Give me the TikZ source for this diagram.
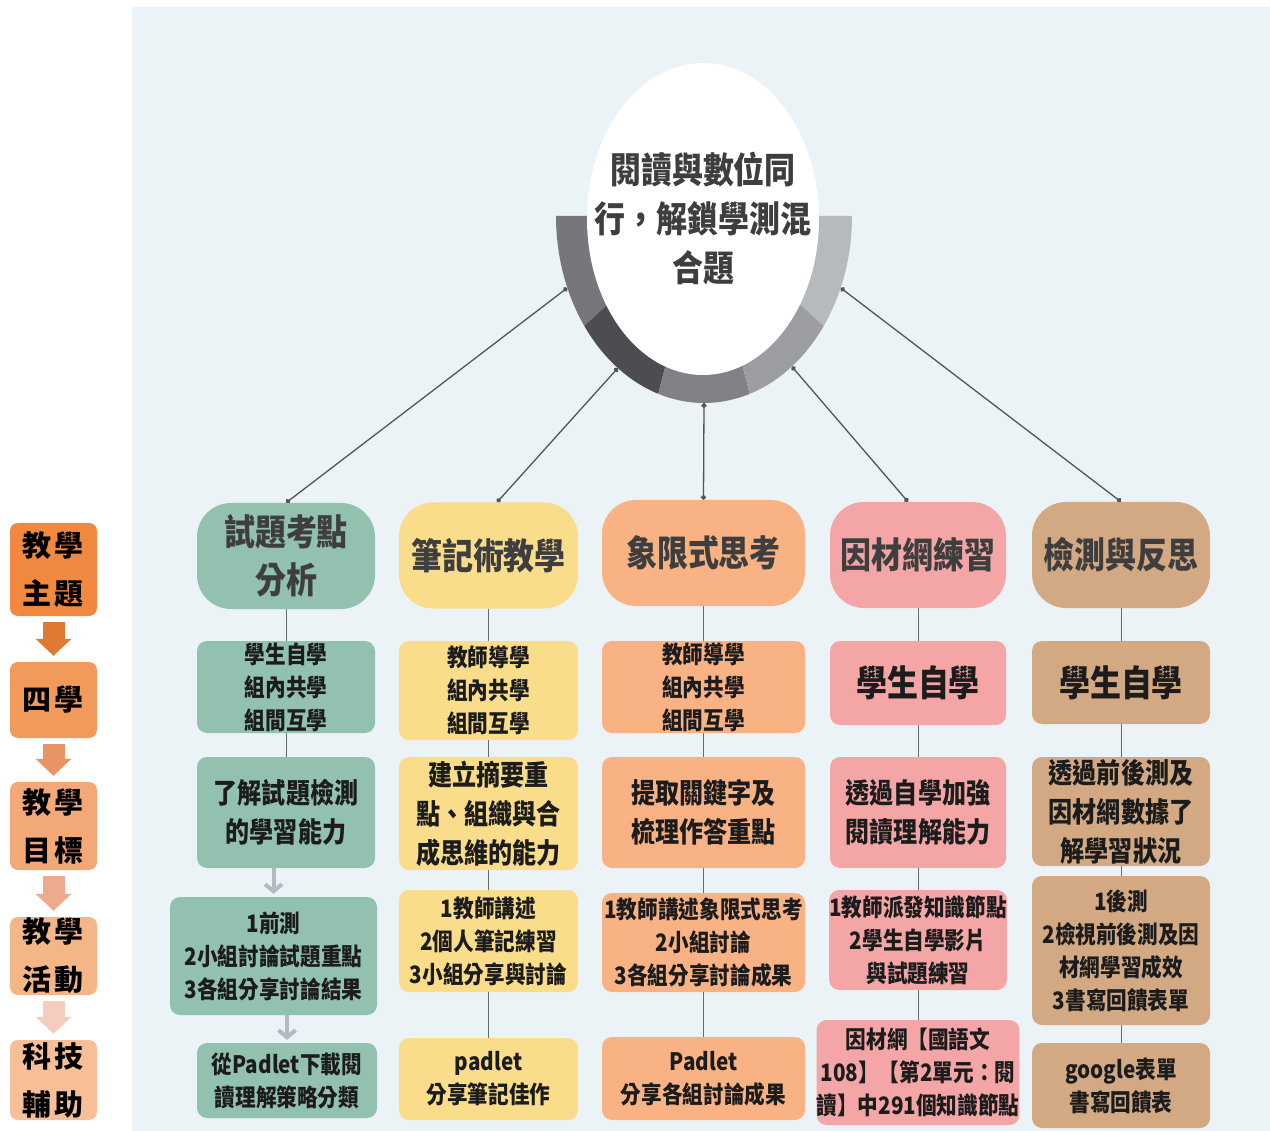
\documentclass[tikz,border=0pt]{standalone}
\usepackage{fontspec}
\newfontfamily\cjk{Noto Sans CJK TC}[FakeStretch=0.86]
\newfontfamily\cjkw{Noto Sans CJK TC}
\usetikzlibrary{arrows.meta,calc,shapes.geometric}
\definecolor{panel}{HTML}{EBF3F6}
\definecolor{teal}{HTML}{93C1AF}
\definecolor{yel}{HTML}{F9DD8B}
\definecolor{ora}{HTML}{F8B284}
\definecolor{pnk}{HTML}{F4A6A6}
\definecolor{tan}{HTML}{D3A983}
\definecolor{txt}{HTML}{1C1C1C}
\definecolor{hdrtxt}{HTML}{3E3E3E}
\definecolor{vline}{HTML}{6A6A6A}
\definecolor{conn}{HTML}{555555}
\definecolor{garrow}{HTML}{B2BAC2}
\definecolor{lgA}{HTML}{F0883F}
\definecolor{lgB}{HTML}{F19A5C}
\definecolor{lgC}{HTML}{F3A878}
\definecolor{lgD}{HTML}{F4B686}
\definecolor{lgE}{HTML}{F6BF98}
\definecolor{laA}{HTML}{E07A32}
\definecolor{laB}{HTML}{E99465}
\definecolor{laC}{HTML}{EEAA8C}
\definecolor{laD}{HTML}{F5CDBF}
\definecolor{rgA}{HTML}{77777B}
\definecolor{rgB}{HTML}{4C4C51}
\definecolor{rgC}{HTML}{818185}
\definecolor{rgD}{HTML}{9C9DA0}
\definecolor{rgE}{HTML}{B7BABD}
\pgfdeclarelayer{back}\pgfdeclarelayer{lines}\pgfsetlayers{back,lines,main}
\newcommand\fz[2]{\fontsize{#1pt}{#2pt}\selectfont}
\begin{document}
\begin{tikzpicture}[x=1pt,y=-1pt,
 box/.style={rounded corners=10pt,inner sep=0pt,align=center,text=txt},
 hdr/.style={box,rounded corners=34pt,text=hdrtxt,font=\cjk\bfseries\fz{36}{48}},
 tA/.style={font=\cjk\bfseries\fz{24}{33}},
 tB/.style={font=\cjk\bfseries\fz{28}{39}},
 tC/.style={font=\cjk\bfseries\fz{36}{44}},
 leg/.style={rounded corners=8pt,inner sep=0pt,align=center,text=black,minimum width=87pt,font=\cjkw\bfseries\fz{29}{48}},
 legarr/.style={line width=22pt,-{Triangle[width=35pt,length=17pt]},shorten <=6pt,shorten >=6pt},
 vl/.style={draw=vline,line width=1pt},
 conline/.style={draw=conn,line width=1.3pt,{Circle[length=5pt]}-{Circle[length=5pt]}},
 garr/.style={draw=garrow,line width=4pt,-{Straight Barb[length=7pt,width=17pt]},shorten >=3pt}]
\useasboundingbox (0,0) rectangle (1270,1131);
\begin{pgfonlayer}{back}
\fill[panel] (132,7) rectangle (1270,1131);
\end{pgfonlayer}

% ring
\coordinate (rc) at (704,216);
\fill[rgA] (rc) -- ($(rc)+(180:148 and 187)$) arc[start angle=180,end angle=144,x radius=148,y radius=187] -- cycle;
\fill[rgB] (rc) -- ($(rc)+(144:148 and 187)$) arc[start angle=144,end angle=108,x radius=148,y radius=187] -- cycle;
\fill[rgC] (rc) -- ($(rc)+(108:148 and 187)$) arc[start angle=108,end angle=72,x radius=148,y radius=187] -- cycle;
\fill[rgD] (rc) -- ($(rc)+(72:148 and 187)$) arc[start angle=72,end angle=36,x radius=148,y radius=187] -- cycle;
\fill[rgE] (rc) -- ($(rc)+(36:148 and 187)$) arc[start angle=36,end angle=0,x radius=148,y radius=187] -- cycle;
\fill[white] (703,219) ellipse[x radius=116,y radius=156];
\node[inner sep=0pt,align=center,text=hdrtxt,font=\cjk\bfseries\fz{36}{49}] (center) at (703,219) {閱讀與數位同\\行，解鎖學測混\\合題};
\coordinate (r1) at ($(rc)+(157.4:148 and 187)$);
\coordinate (r2) at ($(rc)+(125.6:148 and 187)$);
\coordinate (r3) at ($(rc)+(90:148 and 187)$);
\coordinate (r4) at ($(rc)+(53.6:148 and 187)$);
\coordinate (r5) at ($(rc)+(22.6:148 and 187)$);

% headers
\node[hdr,fill=teal,minimum width=178pt,minimum height=106pt] (h1) at (286,556) {試題考點\\分析};
\node[hdr,fill=yel,minimum width=179pt,minimum height=106pt] (h2) at (488.5,555.5) {筆記術教學};
\node[hdr,fill=ora,minimum width=203pt,minimum height=106pt] (h3) at (703.5,553) {象限式思考};
\node[hdr,fill=pnk,minimum width=176pt,minimum height=106pt] (h4) at (918,555) {因材網練習};
\node[hdr,fill=tan,minimum width=178pt,minimum height=106pt] (h5) at (1121,555) {檢測與反思};

% row 2
\node[box,tA,fill=teal,minimum width=178pt,minimum height=92pt] (a1) at (286,687) {學生自學\\組內共學\\組間互學};
\node[box,tA,fill=yel,minimum width=179pt,minimum height=99pt] (a2) at (488.5,690.5) {教師導學\\組內共學\\組間互學};
\node[box,tA,fill=ora,minimum width=203pt,minimum height=92pt] (a3) at (703.5,687) {教師導學\\組內共學\\組間互學};
\node[box,tC,fill=pnk,minimum width=176pt,minimum height=84pt] (a4) at (918,683) {學生自學};
\node[box,tC,fill=tan,minimum width=178pt,minimum height=83pt] (a5) at (1121,682.5) {學生自學};

% row 3
\node[box,tB,fill=teal,minimum width=178pt,minimum height=111pt] (b1) at (286,812.5) {了解試題檢測\\的學習能力};
\node[box,tB,fill=yel,minimum width=179pt,minimum height=113pt] (b2) at (488.5,813.5) {建立摘要重\\點、組織與合\\成思維的能力};
\node[box,tB,fill=ora,minimum width=203pt,minimum height=111pt] (b3) at (703.5,812.5) {提取關鍵字及\\梳理作答重點};
\node[box,tB,fill=pnk,minimum width=176pt,minimum height=111pt] (b4) at (918,812.5) {透過自學加強\\閱讀理解能力};
\node[box,tB,fill=tan,minimum width=178pt,minimum height=109pt] (b5) at (1121,811.5) {透過前後測及\\因材網數據了\\解學習狀況};

% row 4
\node[box,tA,fill=teal,minimum width=207pt,minimum height=118pt] (d1) at (273.5,956) {1前測\\2小組討論試題重點\\3各組分享討論結果};
\node[box,tA,fill=yel,minimum width=179pt,minimum height=102pt] (d2) at (488.5,941) {1教師講述\\2個人筆記練習\\3小組分享與討論};
\node[box,tA,fill=ora,minimum width=203pt,minimum height=99pt] (d3) at (703.5,942.5) {1教師講述象限式思考\\2小組討論\\3各組分享討論成果};
\node[box,tA,fill=pnk,minimum width=176pt,minimum height=100pt] (d4) at (918,940) {1教師派發知識節點\\2學生自學影片\\與試題練習};
\node[box,tA,fill=tan,minimum width=178pt,minimum height=149pt] (d5) at (1121,950.5) {1後測\\2檢視前後測及因\\材網學習成效\\3書寫回饋表單};

% row 5
\node[box,tA,fill=teal,minimum width=180pt,minimum height=75pt] (e1) at (287,1080.5) {從Padlet下載閱\\讀理解策略分類};
\node[box,tA,fill=yel,minimum width=179pt,minimum height=82pt] (e2) at (488.5,1079) {padlet\\分享筆記佳作};
\node[box,tA,fill=ora,minimum width=203pt,minimum height=83pt] (e3) at (703.5,1078.5) {Padlet\\分享各組討論成果};
\node[box,tA,fill=pnk,minimum width=200pt,minimum height=105pt] (e4) at (918,1072.5) {因材網【國語文\\108】【第2單元：閱\\讀】中291個知識節點};
\node[box,tA,fill=tan,minimum width=178pt,minimum height=85pt] (e5) at (1121,1085.5) {google表單\\書寫回饋表};

% connectors
\begin{pgfonlayer}{lines}
\draw[conline] (r1) -- (h1.north);
\draw[conline] (r2) -- (h2.north -| 497,0);
\draw[conline] (r3) -- (h3.north);
\draw[conline] (r4) -- (h4.north -| 908,0);
\draw[conline] (r5) -- (h5.north);
\foreach \c in {1,...,5}{
  \draw[vl] (h\c.south) -- (a\c.north);
  \draw[vl] (a\c.south) -- (b\c.north);
}
\draw[vl] (b2.south -| d2.north) -- (d2.north);
\draw[vl] (b3.south) -- (d3.north);
\draw[vl] (b4.south) -- (d4.north);
\draw[vl] (b5.south) -- (d5.north);
\draw[vl] (d2.south) -- (e2.north);
\draw[vl] (d3.south) -- (e3.north);
\draw[vl] (d4.south) -- (e4.north);
\draw[vl] (d5.south) -- (e5.north);
\end{pgfonlayer}
\draw[garr] (d1.north |- b1.south) -- (d1.north);
\draw[garr] (e1.north |- d1.south) -- (e1.north);

% legend
\node[leg,fill=lgA,minimum height=93pt] (L1) at (53.5,569.5) {教\hspace{3pt}學\\主\hspace{3pt}題};
\node[leg,fill=lgB,minimum height=76pt] (L2) at (53.5,700) {四\hspace{3pt}學};
\node[leg,fill=lgC,minimum height=88pt] (L3) at (53.5,826) {教\hspace{3pt}學\\目\hspace{3pt}標};
\node[leg,fill=lgD,minimum height=78pt] (L4) at (53.5,956) {教\hspace{3pt}學\\活\hspace{3pt}動};
\node[leg,fill=lgE,minimum height=80pt] (L5) at (53.5,1080) {科\hspace{3pt}技\\輔\hspace{3pt}助};
\draw[legarr,draw=laA] (L1.south) -- (L2.north);
\draw[legarr,draw=laB] (L2.south) -- (L3.north);
\draw[legarr,draw=laC] (L3.south) -- (L4.north);
\draw[legarr,draw=laD] (L4.south) -- (L5.north);
\end{tikzpicture}
\end{document}
